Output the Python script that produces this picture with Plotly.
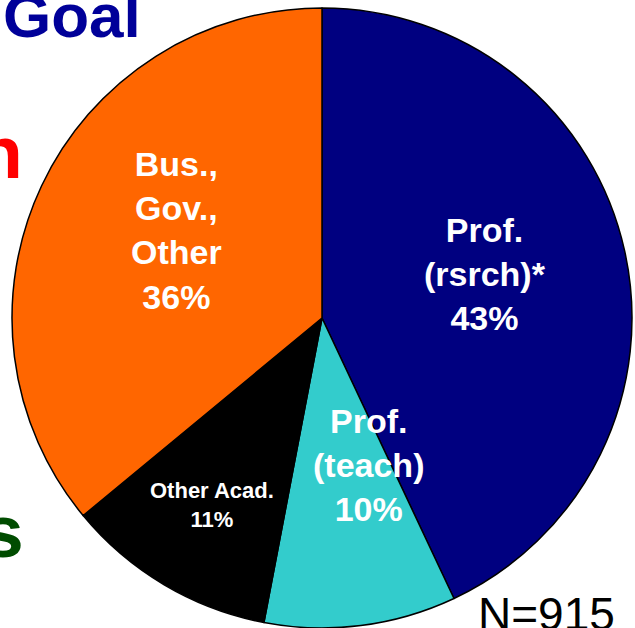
import plotly.graph_objects as go

categories = ["Prof.<br>(rsrch)*", "Prof.<br>(teach)", "Other Acad.", "Bus.,<br>Gov.,<br>Other"]
values = [43, 10, 11, 36]
colors = ["#000080", "#33CCCC", "#000000", "#FF6600"]
label_sizes = [34, 34, 22, 34]
# label centre positions in pixels (layout only)
label_pos = [(485, 274), (368, 465), (212, 505), (176, 230)]
n_text = "N=915"

W, H = 635, 628
FONT = "Liberation Sans, Arial, sans-serif"

def px(x, y):
    return x / W, 1 - y / H

fig = go.Figure()
fig.add_trace(go.Pie(
    labels=categories,
    values=values,
    sort=False,
    direction="clockwise",
    rotation=0,
    marker=dict(colors=colors, line=dict(color="black", width=1.5)),
    textinfo="none",
    hoverinfo="label+percent",
    showlegend=False,
    domain=dict(x=[12 / W, 632 / W], y=[0, 620 / H]),
))

annotations = []
for cat, v, sz, (lx, ly) in zip(categories, values, label_sizes, label_pos):
    x, y = px(lx, ly)
    annotations.append(dict(
        x=x, y=y, xref="paper", yref="paper", xanchor="center", yanchor="middle",
        text=f"<b>{cat}<br>{v}%</b>", showarrow=False,
        font=dict(family=FONT, size=sz, color="white"), align="center",
    ))

x, y = px(546, 614)
annotations.append(dict(x=x, y=y, xref="paper", yref="paper", xanchor="center", yanchor="middle",
                        text=n_text, showarrow=False,
                        font=dict(family=FONT, size=46, color="black")))
x, y = px(1, 16)
annotations.append(dict(x=x, y=y, xref="paper", yref="paper", xanchor="left", yanchor="middle",
                        text="<b>Goal</b>", showarrow=False,
                        font=dict(family=FONT, size=62, color="#000099")))
x, y = px(25, 152)
annotations.append(dict(x=x, y=y, xref="paper", yref="paper", xanchor="right", yanchor="middle",
                        text="<b>n</b>", showarrow=False,
                        font=dict(family=FONT, size=75, color="#FF0000")))
x, y = px(26, 531)
annotations.append(dict(x=x, y=y, xref="paper", yref="paper", xanchor="right", yanchor="middle",
                        text="<b>s</b>", showarrow=False,
                        font=dict(family=FONT, size=75, color="#004C00")))

fig.update_layout(
    width=W, height=H,
    margin=dict(l=0, r=0, t=0, b=0),
    paper_bgcolor="white", plot_bgcolor="white",
    annotations=annotations,
)

fig.write_html("out.html", config={"displayModeBar": False},
               post_script="document.body.style.margin='0';")
